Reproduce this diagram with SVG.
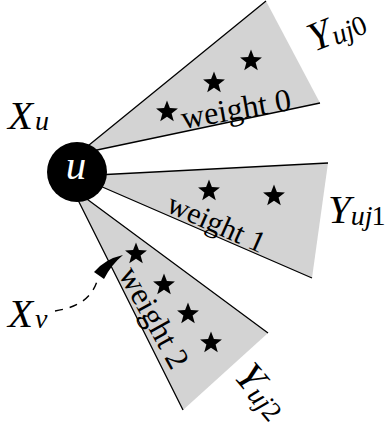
<svg xmlns="http://www.w3.org/2000/svg" width="386" height="431" viewBox="0 0 386 431">
<style>
.wedge{fill:#d3d3d3;stroke:none}
.edge{stroke:#000;stroke-width:1.3;fill:none}
.t{font-family:"Liberation Serif","Times New Roman",serif;fill:#000}
.it{font-style:italic}
.big{font-size:41px}
.sub{font-size:28px}
</style>
<defs>
<path id="star" d="M0,-11.5 L2.9,-3.9 L10.94,-3.55 L4.6,1.5 L6.76,9.3 L0,4.8 L-6.76,9.3 L-4.6,1.5 L-10.94,-3.55 L-2.9,-3.9 Z" fill="#000"/>
</defs>
<rect width="386" height="431" fill="#fff"/>
<g id="wedge0">
<polygon class="wedge" points="78,154 266,1 320,103"/>
<polyline class="edge" points="266,1 78,154 320,103"/>
<use href="#star" x="167" y="112"/>
<use href="#star" x="214" y="83"/>
<use href="#star" x="251" y="61"/>
<text class="t" font-size="32" transform="translate(183,129) rotate(-10)">weight 0</text>
<text class="t big it" transform="translate(314,52) rotate(-22)">Y<tspan class="sub" dy="2">uj</tspan><tspan class="sub" font-style="normal">0</tspan></text>
</g>
<g id="wedge1">
<polygon class="wedge" points="77,176 328,163 312,278"/>
<polyline class="edge" points="328,163 77,176 312,278"/>
<use href="#star" x="209" y="191"/>
<use href="#star" x="274" y="196"/>
<text class="t" font-size="30" transform="translate(165,211) rotate(24)">weight 1</text>
<text class="t big it" x="328" y="223">Y<tspan class="sub" dy="2">uj</tspan><tspan class="sub" font-style="normal" dx="-1">1</tspan></text>
</g>
<g id="wedge2">
<polygon class="wedge" points="72,188 183,410 268,333"/>
<polyline class="edge" points="183,410 72,188 268,333"/>
<use href="#star" x="136" y="254"/>
<use href="#star" x="164" y="285"/>
<use href="#star" x="188" y="314"/>
<use href="#star" x="211" y="343"/>
<text class="t" font-size="32" transform="translate(118,274) rotate(61)">weight 2</text>
<text class="t big it" transform="translate(233,377) rotate(50)">Y<tspan class="sub" dy="2">uj</tspan><tspan class="sub" font-style="normal">2</tspan></text>
</g>
<g id="node-u">
<circle cx="77" cy="172" r="30" fill="#000"/>
<text class="t big it" x="76" y="179" text-anchor="middle" style="fill:#fff">u</text>
</g>
<g id="label-Xu">
<text class="t big it" x="8" y="129">X<tspan class="sub" dx="2" dy="1">u</tspan></text>
</g>
<g id="label-Xv">
<text class="t big it" x="8" y="327">X<tspan class="sub" dx="2" dy="1">v</tspan></text>
</g>
<g id="connectors">
<path d="M55,311 C80,307 93,297 98,278" fill="none" stroke="#000" stroke-width="1.4" stroke-dasharray="8,7"/>
<path d="M94,272 Q105,259 123,255 Q111,265 104,279 Z" fill="#000"/>
</g>
</svg>
